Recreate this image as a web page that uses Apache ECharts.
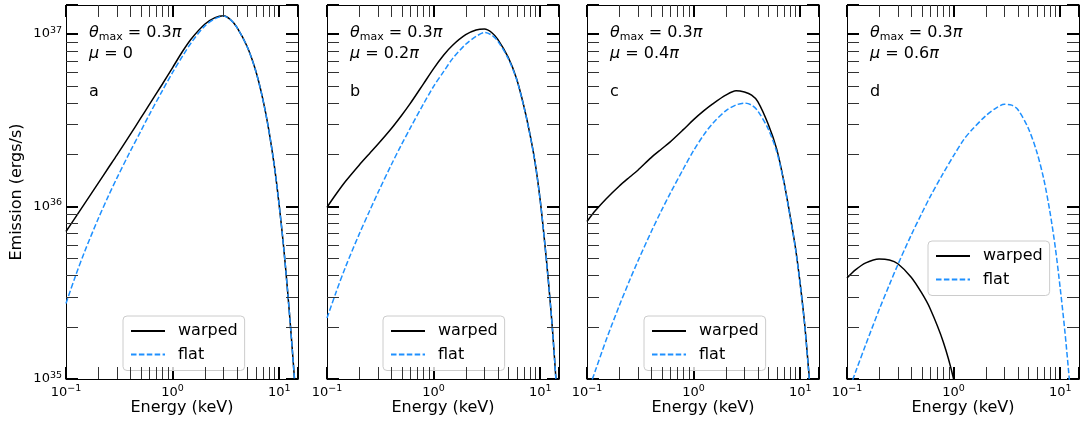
<!DOCTYPE html>
<html>
<head>
<meta charset="utf-8">
<script src="https://cdn.jsdelivr.net/npm/echarts@6/dist/echarts.min.js"></script>
<style>
html,body{margin:0;padding:0;background:#fff;}
#chart{width:1081px;height:424px;}
</style>
</head>
<body>
<div id="chart"></div>
<script>
// ---------------- data ----------------
// photon energy grid (keV)
const energyKeV = [0.1, 0.12, 0.15, 0.2, 0.25, 0.3, 0.4, 0.5, 0.6, 0.8, 1, 1.25, 1.5, 2, 2.5, 3, 3.5, 4, 5, 6, 7, 8, 9, 10, 11, 12, 13, 14, 15];

// log10 of emission (ergs/s); null = curve already far below the axis
const logWarpedA = [35.855, 35.928, 36.018, 36.134, 36.224, 36.297, 36.416, 36.510, 36.587, 36.708, 36.805, 36.902, 36.972, 37.056, 37.094, 37.105, 37.082, 37.039, 36.927, 36.789, 36.625, 36.440, 36.235, 36.005, 35.765, 35.505, 35.240, 34.975, 34.700];
const logFlatA   = [35.438, 35.580, 35.740, 35.927, 36.061, 36.164, 36.319, 36.433, 36.528, 36.670, 36.777, 36.875, 36.950, 37.045, 37.088, 37.103, 37.081, 37.038, 36.926, 36.788, 36.624, 36.439, 36.234, 36.004, 35.764, 35.504, 35.239, 34.974, 34.699];

const logWarpedB = [35.995, 36.066, 36.147, 36.239, 36.306, 36.360, 36.450, 36.527, 36.594, 36.709, 36.799, 36.879, 36.933, 36.995, 37.022, 37.028, 37.008, 36.968, 36.865, 36.740, 36.585, 36.420, 36.245, 36.035, 35.795, 35.550, 35.295, 35.010, 34.720];
const logFlatB   = [35.353, 35.493, 35.653, 35.838, 35.972, 36.079, 36.240, 36.359, 36.451, 36.592, 36.696, 36.784, 36.855, 36.940, 36.985, 37.008, 36.993, 36.958, 36.858, 36.736, 36.582, 36.418, 36.243, 36.033, 35.793, 35.548, 35.293, 35.008, 34.718];

const logWarpedC = [35.913, 35.976, 36.042, 36.117, 36.169, 36.210, 36.283, 36.333, 36.373, 36.445, 36.503, 36.555, 36.593, 36.645, 36.671, 36.663, 36.645, 36.608, 36.478, 36.335, 36.150, 35.953, 35.765, 35.550, 35.320, 35.050, 34.800, 34.530, 34.250];
const logFlatC   = [34.910, 35.050, 35.220, 35.422, 35.569, 35.683, 35.853, 35.977, 36.073, 36.217, 36.324, 36.416, 36.479, 36.554, 36.588, 36.599, 36.587, 36.553, 36.450, 36.320, 36.145, 35.948, 35.760, 35.545, 35.315, 35.045, 34.795, 34.525, 34.245];

const logWarpedD = [35.585, 35.632, 35.673, 35.696, 35.690, 35.668, 35.590, 35.500, 35.410, 35.215, 35.000, 34.700, 34.400, null, null, null, null, null, null, null, null, null, null, null, null, null, null, null, null];
const logFlatD   = [34.906, 35.039, 35.200, 35.401, 35.547, 35.663, 35.834, 35.957, 36.054, 36.193, 36.294, 36.389, 36.447, 36.525, 36.570, 36.592, 36.587, 36.562, 36.455, 36.320, 36.160, 35.970, 35.760, 35.525, 35.290, 35.040, 34.790, 34.530, 34.250];

const panelLetters = ['a', 'b', 'c', 'd'];
const thetaMax = ['0.3', '0.3', '0.3', '0.3'];      // in units of pi
const muValues = ['0', '0.2', '0.4', '0.6'];       // in units of pi ("0" shown without pi)

const xMinorTicks = [0.2, 0.3, 0.4, 0.5, 0.6, 0.7, 0.8, 0.9, 2, 3, 4, 5, 6, 7, 8, 9];
const yMinorTicks = [2e35, 3e35, 4e35, 5e35, 6e35, 7e35, 8e35, 9e35, 2e36, 3e36, 4e36, 5e36, 6e36, 7e36, 8e36, 9e36];

const warpedSets = [logWarpedA, logWarpedB, logWarpedC, logWarpedD];
const flatSets = [logFlatA, logFlatB, logFlatC, logFlatD];

// ---------------- layout / style ----------------
const X_MIN = 0.1, X_MAX = 15, Y_MIN = 1e35, Y_MAX = 1.47e37;
const GRID_LEFTS = [66, 327, 587, 847];
const GRID_W = 232, GRID_TOP = 5, GRID_H = 374;
const LEGEND_POS = [[57, 316], [56, 316], [57, 316], [81, 241]];
const FONT = 'DejaVu Sans';
const TICK_LEN = 12;
const BLACK = '#000000';
const BLUE = '#1e90ff';
const SMOOTH = 0.3;

function isPow10(v) {
  const l = Math.log10(v);
  return Math.abs(l - Math.round(l)) < 1e-6;
}
function powLabel(v) {
  if (!isPow10(v)) return '';
  const k = Math.round(Math.log10(v));
  const sup = k < 0 ? '\u2212' + (-k) : String(k);
  return '{b|10}{s|' + sup + '}';
}
const labelRich = {
  b: { fontSize: 13, lineHeight: 17, fontFamily: FONT, color: BLACK },
  s: { fontSize: 9.5, lineHeight: 9, fontFamily: FONT, color: BLACK, verticalAlign: 'top' }
};

const grids = [], xAxes = [], yAxes = [], series = [], legends = [], graphics = [];

function toPairs(logs) {
  const out = [];
  energyKeV.forEach((e, j) => {
    if (logs[j] !== null) out.push([e, Math.pow(10, logs[j])]);
  });
  return out;
}

GRID_LEFTS.forEach((left, gi) => {
  grids.push({ left: left, top: GRID_TOP, width: GRID_W, height: GRID_H, show: false, containLabel: false, outerBoundsMode: 'none' });

  const baseX = {
    type: 'log', logBase: 10, gridIndex: gi, min: X_MIN, max: X_MAX,
    axisLine: { show: true, onZero: false, lineStyle: { color: BLACK, width: 1 } },
    axisTick: { show: true, inside: true, length: TICK_LEN, lineStyle: { color: BLACK, width: 2 } },
    splitLine: { show: false }, minorTick: { show: false }, minorSplitLine: { show: false }
  };
  xAxes.push(Object.assign({}, baseX, {
    position: 'bottom',
    axisLabel: { show: true, margin: 5, formatter: powLabel, rich: labelRich, showMinLabel: true, showMaxLabel: true, hideOverlap: false },
    name: 'Energy (keV)', nameLocation: 'middle', nameGap: 21, nameMoveOverlap: false,
    nameTextStyle: { fontSize: 16, fontFamily: FONT, color: BLACK, verticalAlign: 'top' }
  }));
  xAxes.push(Object.assign({}, baseX, { position: 'top', axisLabel: { show: false } }));

  const baseY = {
    type: 'log', logBase: 10, gridIndex: gi, min: Y_MIN, max: Y_MAX,
    axisLine: { show: true, onZero: false, lineStyle: { color: BLACK, width: 1 } },
    axisTick: { show: true, inside: true, length: TICK_LEN, lineStyle: { color: BLACK, width: 2 } },
    splitLine: { show: false }, minorTick: { show: false }, minorSplitLine: { show: false }
  };
  const leftY = Object.assign({}, baseY, {
    position: 'left',
    axisLabel: { show: gi === 0, margin: 4, formatter: powLabel, rich: labelRich, showMinLabel: true, showMaxLabel: true, hideOverlap: false }
  });
  if (gi === 0) {
    Object.assign(leftY, {
      name: 'Emission (ergs/s)', nameLocation: 'middle', nameGap: 41, nameMoveOverlap: false,
      nameTextStyle: { fontSize: 16, fontFamily: FONT, color: BLACK }
    });
  }
  yAxes.push(leftY);
  yAxes.push(Object.assign({}, baseY, { position: 'right', axisLabel: { show: false } }));

  const xi = gi * 2, yi = gi * 2;
  series.push({
    name: 'warped', type: 'line', xAxisIndex: xi, yAxisIndex: yi,
    data: toPairs(warpedSets[gi]), showSymbol: false, symbol: 'none', smooth: SMOOTH, clip: true, z: 3,
    lineStyle: { color: BLACK, width: 1.5, type: 'solid' }, itemStyle: { color: BLACK }
  });
  series.push({
    name: 'flat', type: 'line', xAxisIndex: xi, yAxisIndex: yi,
    data: toPairs(flatSets[gi]), showSymbol: false, symbol: 'none', smooth: SMOOTH, clip: true, z: 4,
    lineStyle: { color: BLUE, width: 1.5, type: [5.5, 2.4] }, itemStyle: { color: BLUE }
  });

  // minor ticks on all four sides, drawn through the axes' scales
  series.push({
    type: 'custom', xAxisIndex: xi, yAxisIndex: yi, silent: true, z: 5,
    data: xMinorTicks.map(v => [v, Y_MIN]),
    renderItem: function (params, api) {
      const v = api.value(0);
      const b = api.coord([v, Y_MIN]);
      const t = api.coord([v, Y_MAX]);
      const x = Math.round(b[0]) + 0.5;
      return { type: 'group', children: [
        { type: 'line', shape: { x1: x, y1: b[1], x2: x, y2: b[1] - TICK_LEN }, style: { stroke: '#333', lineWidth: 1 } },
        { type: 'line', shape: { x1: x, y1: t[1], x2: x, y2: t[1] + TICK_LEN }, style: { stroke: '#333', lineWidth: 1 } }
      ] };
    }
  });
  series.push({
    type: 'custom', xAxisIndex: xi, yAxisIndex: yi, silent: true, z: 5,
    data: yMinorTicks.map(v => [X_MIN, v]),
    renderItem: function (params, api) {
      const v = api.value(1);
      const l = api.coord([X_MIN, v]);
      const r = api.coord([X_MAX, v]);
      const y = Math.round(l[1]) + 0.5;
      return { type: 'group', children: [
        { type: 'line', shape: { x1: l[0], y1: y, x2: l[0] + TICK_LEN, y2: y }, style: { stroke: '#333', lineWidth: 1 } },
        { type: 'line', shape: { x1: r[0], y1: y, x2: r[0] - TICK_LEN, y2: y }, style: { stroke: '#333', lineWidth: 1 } }
      ] };
    }
  });

  legends.push({
    data: ['warped', 'flat'], orient: 'vertical',
    left: left + LEGEND_POS[gi][0], top: LEGEND_POS[gi][1],
    padding: [5, 7, 6, 7], itemWidth: 34, itemHeight: 20, itemGap: 3.5,
    backgroundColor: 'rgba(255,255,255,0.8)', borderColor: '#cccccc', borderWidth: 1, borderRadius: 4,
    selectedMode: false,
    itemStyle: { opacity: 0, borderWidth: 0 },
    textStyle: { fontSize: 16, fontFamily: FONT, color: BLACK, lineHeight: 20, padding: [0, 0, 0, 8] }
  });

  const tx = left + 23;
  const mathRich = {
    i: { fontSize: 16, fontFamily: FONT, fontStyle: 'italic', color: BLACK, lineHeight: 20 },
    n: { fontSize: 16, fontFamily: FONT, color: BLACK, lineHeight: 20 },
    s: { fontSize: 11, fontFamily: FONT, color: BLACK, lineHeight: 11, verticalAlign: 'bottom' }
  };
  graphics.push({
    type: 'text', x: tx, y: 33, z: 10,
    style: { text: '{i|\u03b8}{s|max}{n| = ' + thetaMax[gi] + '}{i|\u03c0}', rich: mathRich, verticalAlign: 'middle', align: 'left' }
  });
  const muText = muValues[gi] === '0' ? '{i|\u03bc}{n| = 0}' : '{i|\u03bc}{n| = ' + muValues[gi] + '}{i|\u03c0}';
  graphics.push({
    type: 'text', x: tx, y: 54, z: 10,
    style: { text: muText, rich: mathRich, verticalAlign: 'middle', align: 'left' }
  });
  graphics.push({
    type: 'text', x: tx, y: 92, z: 10,
    style: { text: panelLetters[gi], fontSize: 16, fontFamily: FONT, fill: BLACK, verticalAlign: 'middle', align: 'left' }
  });
});

const chart = echarts.init(document.getElementById('chart'), null, { renderer: 'canvas' });
chart.setOption({
  animation: false,
  backgroundColor: '#ffffff',
  textStyle: { fontFamily: FONT },
  grid: grids, xAxis: xAxes, yAxis: yAxes, series: series, legend: legends,
  graphic: graphics
});
</script>
</body>
</html>
